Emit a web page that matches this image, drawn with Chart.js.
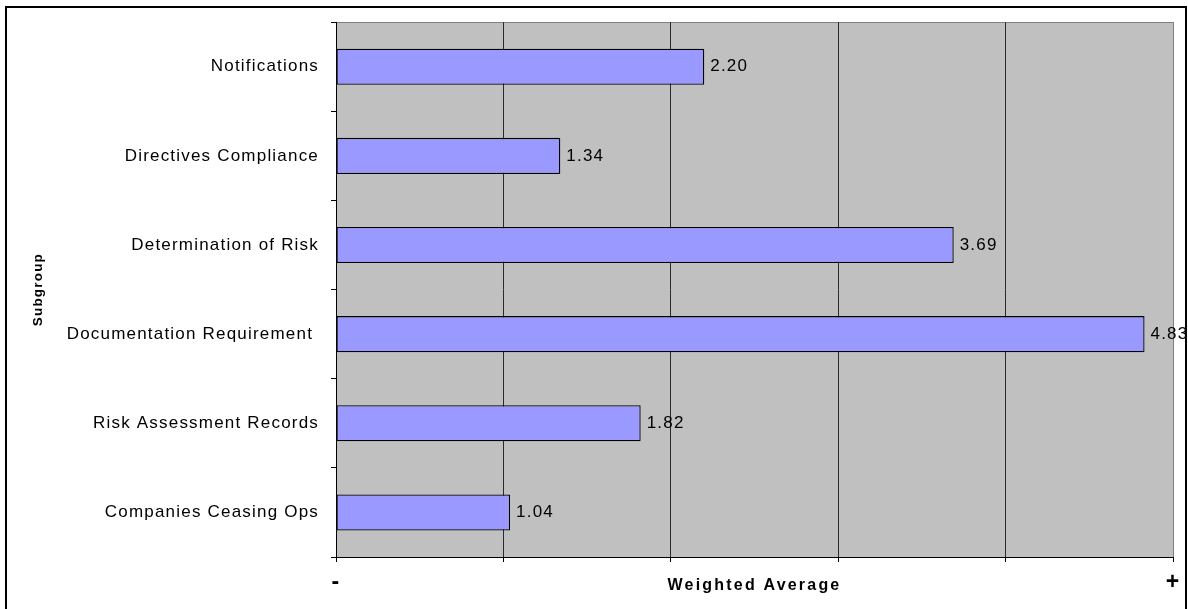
<!DOCTYPE html>
<html>
<head>
<meta charset="utf-8">
<title>Weighted Average by Subgroup</title>
<script src="https://cdn.jsdelivr.net/npm/chart.js@4/dist/chart.umd.min.js"></script>
<style>
  html, body { margin: 0; padding: 0; background: #ffffff; overflow: hidden; }
  #frame {
    position: absolute; left: 5px; top: 6px; width: 1182px; height: 640px;
    box-sizing: border-box; border: 2px solid #000;
  }
  #wrap { position: absolute; left: 0; top: 0; width: 1188px; height: 609px; }
</style>
</head>
<body>
<div id="frame"></div>
<div id="wrap"><canvas id="chart" width="1188" height="609"></canvas></div>
<script>
// Subgroups, top to bottom
const subgroups = [
  'Notifications',
  'Directives Compliance',
  'Determination of Risk',
  'Documentation Requirement ',
  'Risk Assessment Records',
  'Companies Ceasing Ops'
];
// Weighted average score of each subgroup
const weightedAverages = [2.20, 1.34, 3.69, 4.83, 1.82, 1.04];
// Value axis range and the marks shown at its two ends
const axisMin = 0;
const axisMax = 5;
const axisEndLabels = ['-', '+'];

const FONT = '"Liberation Sans", Arial, Helvetica, sans-serif';
const TEXT_SPACING = '1.2px';
const X_TITLE_SPACING = '2.2px';

// Linear scale whose title is drawn with wider letter spacing
const BaseLinear = Chart.LinearScale || Chart.registry.getScale('linear');
class SpacedLinearScale extends BaseLinear {
  drawTitle() {
    const ctx = this.ctx;
    const prev = ctx.letterSpacing;
    ctx.letterSpacing = X_TITLE_SPACING;
    super.drawTitle();
    ctx.letterSpacing = prev;
  }
}
SpacedLinearScale.id = 'spacedLinear';
SpacedLinearScale.defaults = BaseLinear.defaults;
Chart.register(SpacedLinearScale);

// Grey plot background with a light frame on the top and right
const plotFrame = {
  id: 'plotFrame',
  beforeUpdate(chart) { chart.ctx.letterSpacing = TEXT_SPACING; },
  beforeDraw(chart) {
    const { ctx, chartArea: a } = chart;
    ctx.letterSpacing = TEXT_SPACING;
    ctx.save();
    ctx.fillStyle = '#C0C0C0';
    ctx.fillRect(a.left, a.top, a.right - a.left, a.bottom - a.top);
    ctx.strokeStyle = '#808080';
    ctx.lineWidth = 1;
    ctx.beginPath();
    ctx.moveTo(a.left, Math.round(a.top) + 0.5);
    ctx.lineTo(Math.round(a.right) + 0.5, Math.round(a.top) + 0.5);
    ctx.lineTo(Math.round(a.right) + 0.5, a.bottom);
    ctx.stroke();
    ctx.restore();
  }
};

// Value printed just past the end of each bar
const barValueLabels = {
  id: 'barValueLabels',
  afterDatasetsDraw(chart) {
    const ctx = chart.ctx;
    const meta = chart.getDatasetMeta(0);
    ctx.save();
    ctx.letterSpacing = TEXT_SPACING;
    ctx.font = '17px ' + FONT;
    ctx.fillStyle = '#000';
    ctx.textAlign = 'left';
    ctx.textBaseline = 'middle';
    meta.data.forEach((bar, i) => {
      ctx.fillText(weightedAverages[i].toFixed(2), bar.x + 6, bar.y);
    });
    ctx.restore();
  }
};

new Chart(document.getElementById('chart'), {
  type: 'bar',
  data: {
    labels: subgroups,
    datasets: [{
      data: weightedAverages,
      backgroundColor: '#9999FF',
      borderColor: '#000000',
      borderWidth: 1.3,
      borderSkipped: false,
      categoryPercentage: 1.0,
      barPercentage: 0.405
    }]
  },
  options: {
    indexAxis: 'y',
    responsive: false,
    animation: false,
    devicePixelRatio: 1,
    layout: { padding: { top: 20, right: 15, bottom: 0, left: 0 } },
    plugins: {
      legend: { display: false },
      tooltip: { enabled: false }
    },
    scales: {
      x: {
        type: 'spacedLinear',
        position: 'bottom',
        min: axisMin,
        max: axisMax,
        afterFit(scale) { scale.height = 52; },
        ticks: {
          stepSize: 1,
          autoSkip: false,
          maxRotation: 0,
          padding: 7,
          color: '#000',
          font: { family: FONT, size: 23, weight: 'bold', lineHeight: 1.2 },
          callback(value) {
            if (value === axisMin) return axisEndLabels[0];
            if (value === axisMax) return axisEndLabels[1];
            return '';
          }
        },
        grid: {
          color: (c) => (c.tick && c.tick.value === axisMax) ? '#808080' : '#2a2a2a',
          lineWidth: 1,
          drawTicks: true,
          tickLength: 5,
          tickColor: '#000'
        },
        border: { display: true, color: '#000', width: 1 },
        title: {
          display: true,
          text: 'Weighted Average',
          color: '#000',
          font: { family: FONT, size: 16, weight: 'bold', lineHeight: 1.2 },
          padding: { top: 0, bottom: 14 }
        }
      },
      y: {
        type: 'category',
        position: 'left',
        afterFit(scale) { scale.width = 336; },
        ticks: {
          padding: 12,
          color: '#000',
          autoSkip: false,
          font: { family: FONT, size: 17, lineHeight: 1.2 }
        },
        grid: {
          offset: true,
          drawOnChartArea: false,
          drawTicks: true,
          tickLength: 5,
          tickColor: '#000'
        },
        border: { display: true, color: '#000', width: 1 },
        title: {
          display: true,
          text: 'Subgroup',
          color: '#000',
          font: { family: FONT, size: 13.5, weight: 'bold', lineHeight: 1.2 },
          padding: { top: 30, bottom: 0 }
        }
      }
    }
  },
  plugins: [plotFrame, barValueLabels]
});
</script>
</body>
</html>
